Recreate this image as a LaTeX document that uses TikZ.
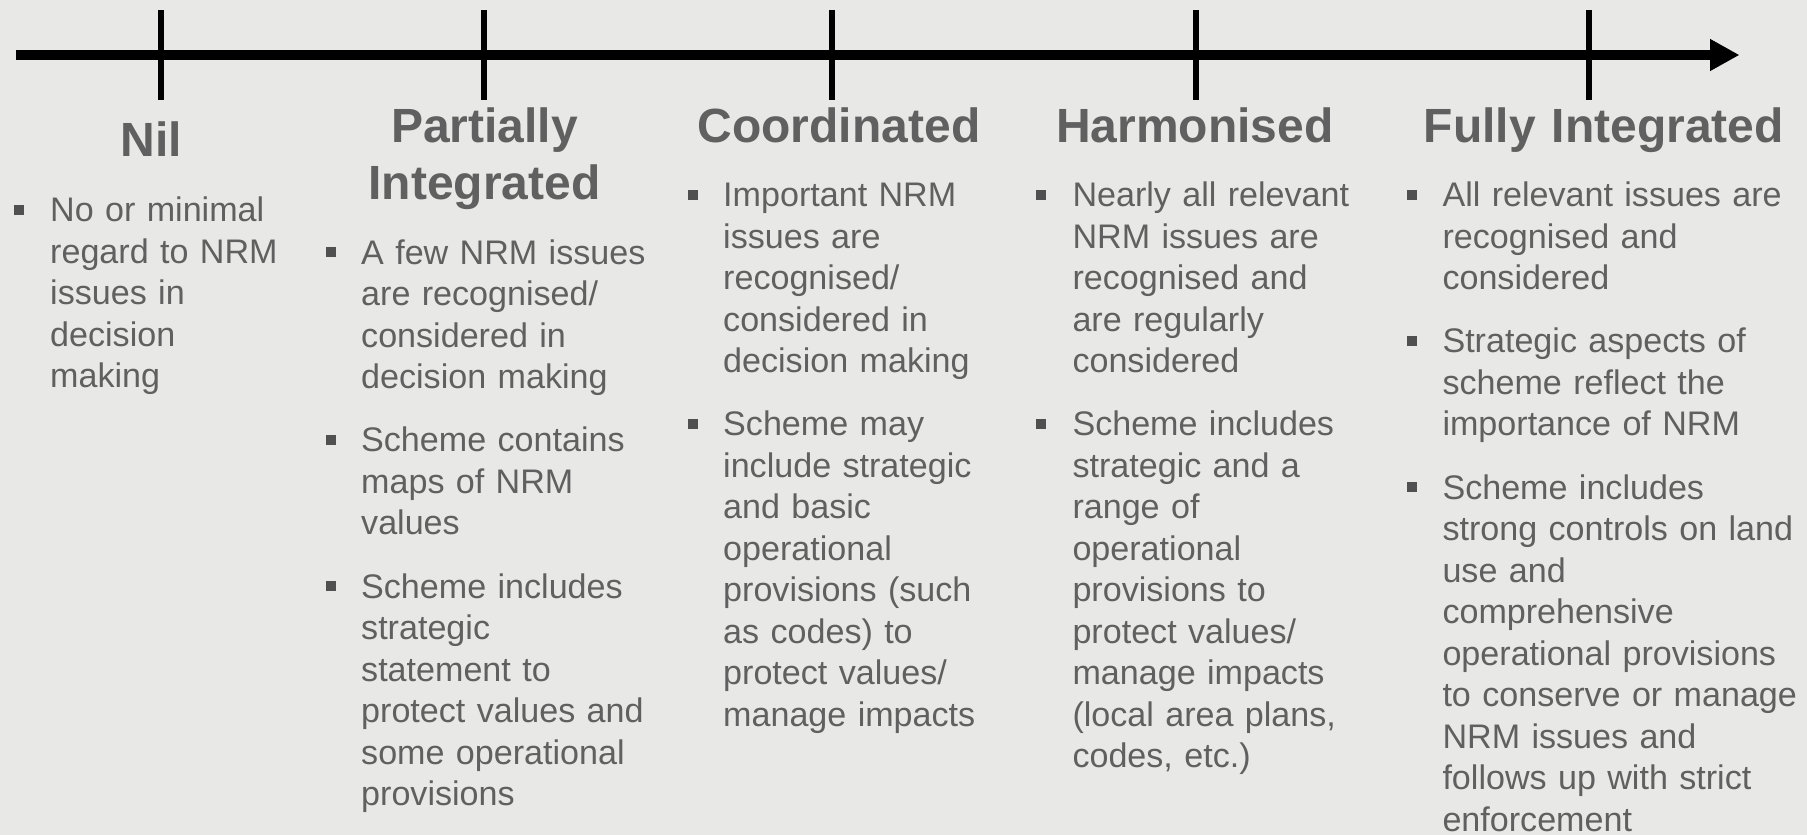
\documentclass[tikz,border=0pt]{standalone}
\usepackage{fontspec}
\setmainfont{Liberation Sans}
\usetikzlibrary{arrows.meta}
\definecolor{bgc}{RGB}{232,232,230}
\definecolor{txt}{RGB}{96,96,96}
\definecolor{bul}{RGB}{80,80,80}
\begin{document}
\begin{tikzpicture}[x=1pt,y=-1pt,
  body/.style={anchor=base west, inner sep=0pt, text width=430pt, align=left, text=txt,
    font=\fontsize{34.1pt}{41.5pt}\selectfont},
  head/.style={anchor=base, inner sep=0pt, text width=420pt, align=center, text=txt,
    font=\bfseries\fontsize{48pt}{57.5pt}\selectfont},
  bulletbox/.style={fill=bul, draw=none, minimum size=10pt, inner sep=0pt, anchor=center},
  tickline/.style={line width=6pt, draw=black},
  axisline/.style={line width=10pt, draw=black, -{Triangle[length=29.5pt,width=30pt]}}
]
% background / bounding box
\fill[bgc] (0,0) rectangle (1807,835);
\useasboundingbox (0,0) rectangle (1807,835);

% axis
\coordinate (axs) at (16,55);
\coordinate (axe) at (1739.5,55);
\draw[axisline] (axs) -- (axe);

% ticks
\foreach \n/\x in {1/161,2/484,3/832,4/1195.5,5/1589}{
  \coordinate (tt\n) at (\x,10);
  \coordinate (tb\n) at (\x,100);
  \draw[tickline] (tt\n) -- (tb\n);
}

% ---------- Nil ----------
\node[head] (h1) at (151.5,156.7) {Nil};
\node[bulletbox] (b1a) at (18.5,209.7) {};
\node[body] (p1a) at (50,221.7) {No or minimal\\regard to NRM\\issues in\\decision\\making};

% ---------- Partially Integrated ----------
\node[head] (h2) at (484.5,142) {Partially\\Integrated};
\node[bulletbox] (b2a) at (330.7,252) {};
\node[body] (p2a) at (361,264) {A few NRM issues\\are recognised/\\considered in\\decision making};
\node[bulletbox] (b2b) at (330.7,439.7) {};
\node[body] (p2b) at (361,451.7) {Scheme contains\\maps of NRM\\values};
\node[bulletbox] (b2c) at (330.7,586) {};
\node[body] (p2c) at (361,598) {Scheme includes\\strategic\\statement to\\protect values and\\some operational\\provisions};

% ---------- Coordinated ----------
\node[head] (h3) at (839,142.7) {Coordinated};
\node[bulletbox] (b3a) at (693,194.7) {};
\node[body] (p3a) at (723,206.7) {Important NRM\\issues are\\recognised/\\considered in\\decision making};
\node[bulletbox] (b3b) at (693,423.9) {};
\node[body] (p3b) at (723,435.9) {Scheme may\\include strategic\\and basic\\operational\\provisions (such\\as codes) to\\protect values/\\manage impacts};

% ---------- Harmonised ----------
\node[head] (h4) at (1195,142.7) {Harmonised};
\node[bulletbox] (b4a) at (1041,194.7) {};
\node[body] (p4a) at (1072.3,206.7) {Nearly all relevant\\NRM issues are\\recognised and\\are regularly\\considered};
\node[bulletbox] (b4b) at (1041,423.9) {};
\node[body] (p4b) at (1072.3,435.9) {Scheme includes\\strategic and a\\range of\\operational\\provisions to\\protect values/\\manage impacts\\(local area plans,\\codes, etc.)};

% ---------- Fully Integrated ----------
\node[head] (h5) at (1603.7,142.7) {Fully Integrated};
\node[bulletbox] (b5a) at (1411.7,194.7) {};
\node[body] (p5a) at (1442.3,206.7) {All relevant issues are\\recognised and\\considered};
\node[bulletbox] (b5b) at (1411.7,340.9) {};
\node[body] (p5b) at (1442.3,352.9) {Strategic aspects of\\scheme reflect the\\importance of NRM};
\node[bulletbox] (b5c) at (1411.7,487.1) {};
\node[body] (p5c) at (1442.3,499.1) {Scheme includes\\strong controls on land\\use and\\comprehensive\\operational provisions\\to conserve or manage\\NRM issues and\\follows up with strict\\enforcement};
\end{tikzpicture}
\end{document}
